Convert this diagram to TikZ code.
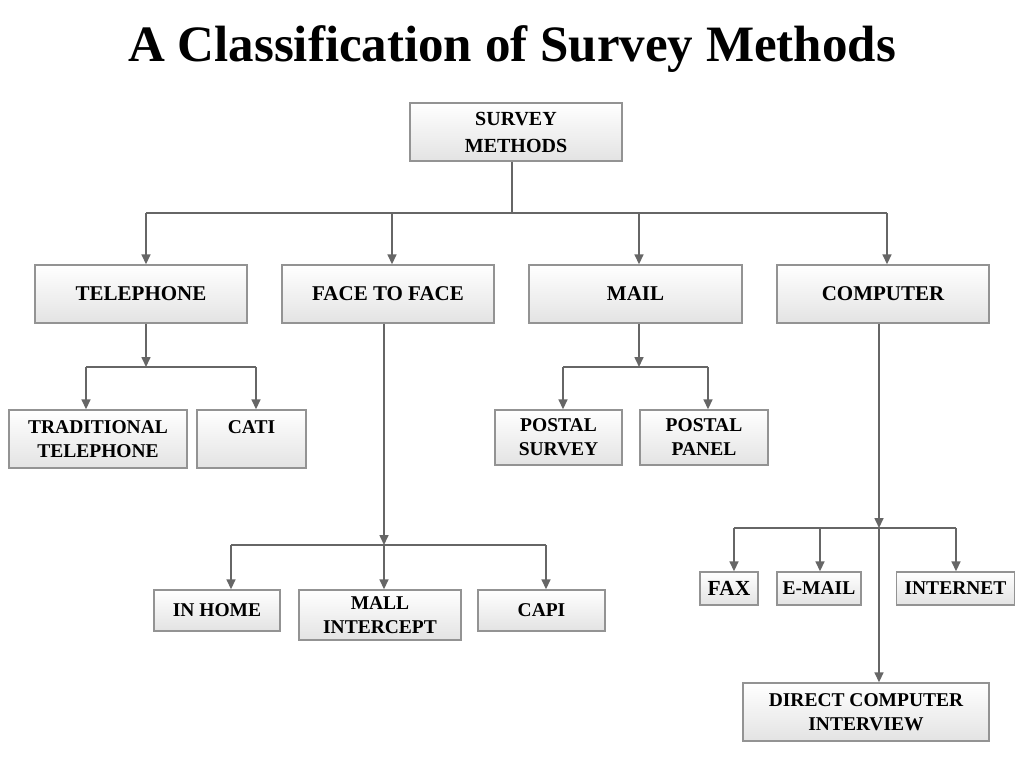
\documentclass[tikz,border=0pt]{standalone}
\usepackage{fontspec}
\setmainfont{Liberation Serif}
\usetikzlibrary{arrows.meta}

\begin{document}
\begin{tikzpicture}[x=1pt, y=-1pt,
  method/.style = {draw=gray!85, line width=1.4pt, top color=white, bottom color=gray!22,
    align=center, inner sep=1pt, font=\bfseries\fontsize{19.5}{24}\selectfont},
  link/.style = {draw=black!60, line width=1.6pt},
  arr/.style = {link, -{Triangle[length=10pt, width=9pt]}}]

\useasboundingbox (0, 0) rectangle (1024, 768);

\node (title) at (512, 49) {\bfseries\fontsize{51}{60}\selectfont A Classification of Survey Methods};

% top level
\node[method, minimum width=212, minimum height=58, font=\bfseries\fontsize{20}{27}\selectfont] (SM) at (516, 132) {SURVEY\\METHODS};

\node[method, minimum width=212, minimum height=58, font=\bfseries\fontsize{21}{26}\selectfont] (TEL) at (141, 294) {TELEPHONE};
\node[method, minimum width=212, minimum height=58, font=\bfseries\fontsize{21}{26}\selectfont] (F2F) at (388, 294) {FACE TO FACE};
\node[method, minimum width=213, minimum height=58, font=\bfseries\fontsize{21}{26}\selectfont] (MAIL) at (635.5, 294) {MAIL};
\node[method, minimum width=212, minimum height=58, font=\bfseries\fontsize{21}{26}\selectfont] (COMP) at (883, 294) {COMPUTER};

% telephone
\node[method, minimum width=178, minimum height=58] (TRAD) at (98, 439) {TRADITIONAL\\TELEPHONE};
\node[method, minimum width=109, minimum height=58] (CATI) at (251.5, 439) {CATI\\\mbox{}};

% face to face
\node[method, minimum width=126, minimum height=41] (HOME) at (217, 610.5) {IN HOME};
\node[method, minimum width=162, minimum height=50] (MALL) at (380, 615) {MALL\\INTERCEPT};
\node[method, minimum width=127, minimum height=41] (CAPI) at (541.5, 610.5) {CAPI};

% mail
\node[method, minimum width=127, minimum height=55] (POST) at (558.5, 437.5) {POSTAL\\SURVEY};
\node[method, minimum width=128, minimum height=55] (PANEL) at (704, 437.5) {POSTAL\\PANEL};

% computer
\node[method, minimum width=58, minimum height=33, font=\bfseries\fontsize{21.5}{26}\selectfont] (FAX) at (729, 588.5) {FAX};
\node[method, minimum width=84, minimum height=33] (EMAIL) at (819, 588.5) {E-MAIL};
\node[method, minimum width=118, minimum height=33] (NET) at (955.5, 588.5) {INTERNET};
\node[method, minimum width=246, minimum height=58] (DCI) at (866, 712) {DIRECT COMPUTER\\INTERVIEW};

% junctions
\coordinate (J0) at (512, 213);
\coordinate (J0a) at (146, 213);
\coordinate (J0b) at (392, 213);
\coordinate (J0c) at (639, 213);
\coordinate (J0d) at (887, 213);

\coordinate (JT) at (146, 367);
\coordinate (JTa) at (86, 367);
\coordinate (JTb) at (256, 367);

\coordinate (JF) at (384, 545);
\coordinate (JFa) at (231, 545);
\coordinate (JFc) at (546, 545);

\coordinate (JM) at (639, 367);
\coordinate (JMa) at (563, 367);
\coordinate (JMb) at (708, 367);

\coordinate (JC) at (879, 528);
\coordinate (JCa) at (734, 528);
\coordinate (JCb) at (820, 528);
\coordinate (JCc) at (956, 528);

\draw[link] (SM.south -| J0) -- (J0);
\draw[link] (J0a) -- (J0d);
\draw[arr] (J0a) -- (TEL.north -| J0a);
\draw[arr] (J0b) -- (F2F.north -| J0b);
\draw[arr] (J0c) -- (MAIL.north -| J0c);
\draw[arr] (J0d) -- (COMP.north -| J0d);

\draw[arr] (TEL.south -| JT) -- (JT);
\draw[link] (JTa) -- (JTb);
\draw[arr] (JTa) -- (TRAD.north -| JTa);
\draw[arr] (JTb) -- (CATI.north -| JTb);

\draw[arr] (F2F.south -| JF) -- (JF);
\draw[link] (JFa) -- (JFc);
\draw[arr] (JFa) -- (HOME.north -| JFa);
\draw[arr] (JF) -- (MALL.north -| JF);
\draw[arr] (JFc) -- (CAPI.north -| JFc);

\draw[arr] (MAIL.south -| JM) -- (JM);
\draw[link] (JMa) -- (JMb);
\draw[arr] (JMa) -- (POST.north -| JMa);
\draw[arr] (JMb) -- (PANEL.north -| JMb);

\draw[arr] (COMP.south -| JC) -- (JC);
\draw[link] (JCa) -- (JCc);
\draw[arr] (JCa) -- (FAX.north -| JCa);
\draw[arr] (JCb) -- (EMAIL.north -| JCb);
\draw[arr] (JCc) -- (NET.north -| JCc);
\draw[arr] (JC) -- (DCI.north -| JC);

\end{tikzpicture}
\end{document}
